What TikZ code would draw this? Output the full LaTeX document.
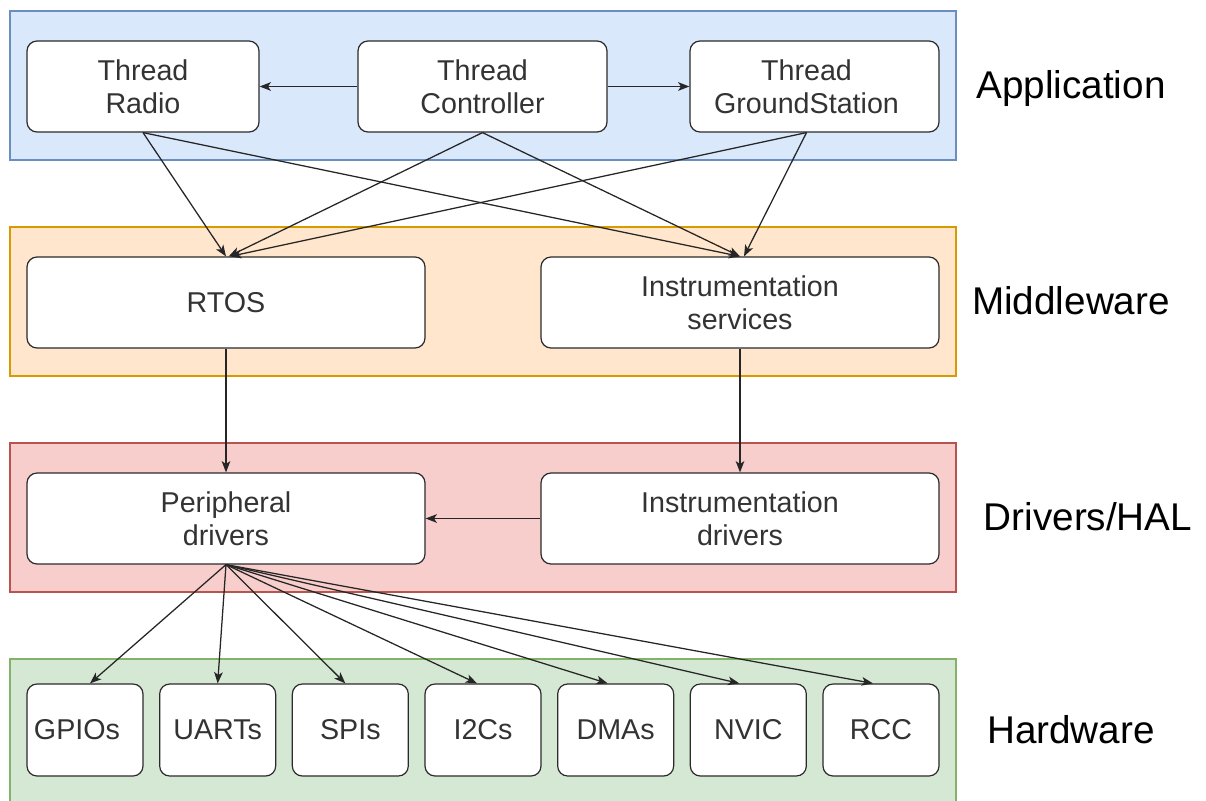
\documentclass[tikz,border=0pt]{standalone}
\usepackage{fontspec}
\setmainfont{Liberation Sans}
\usetikzlibrary{arrows.meta}
\definecolor{appfill}{HTML}{DAE8FC}\definecolor{appline}{HTML}{6C8EBF}
\definecolor{midfill}{HTML}{FFE6CC}\definecolor{midline}{HTML}{D79B00}
\definecolor{drvfill}{HTML}{F8CECC}\definecolor{drvline}{HTML}{B85450}
\definecolor{hwfill}{HTML}{D5E8D4}\definecolor{hwline}{HTML}{82B366}
\definecolor{boxline}{HTML}{2B2B2B}
\definecolor{txt}{HTML}{333333}
\definecolor{linecol}{HTML}{262626}
\begin{document}
\begin{tikzpicture}[x=0.75pt,y=-0.75pt,
  band/.style={line width=0.9pt},
  box/.style={draw=boxline, fill=white, rounded corners=7.5pt, line width=0.9pt,
    align=center, text=txt, inner sep=0pt,
    font=\fontsize{21.5}{24.75}\selectfont},
  widebox/.style={box, minimum width=298.5pt, minimum height=68.25pt},
  hwbox/.style={box, minimum width=87pt, minimum height=69pt},
  link/.style={-{Stealth[length=8.5pt,width=6.5pt,inset=2.2pt]}, draw=linecol, line width=0.95pt},
  layer/.style={font=\fontsize{29}{34}\selectfont, text=black, inner sep=0pt}]
\useasboundingbox (0,0) rectangle (1206,800);

% layer bands
\fill[appfill] (10,11) rectangle (956,160);
\draw[band, appline] (10,11) rectangle (956,160);
\fill[midfill] (10,227) rectangle (956,376);
\draw[band, midline] (10,227) rectangle (956,376);
\fill[drvfill] (10,443) rectangle (956,592);
\draw[band, drvline] (10,443) rectangle (956,592);
\fill[hwfill] (10,659) rectangle (956,812);
\draw[band, hwline] (10,659) rectangle (956,812);

% layer names
\node[layer] (lapp) at (1071,88) {Application};
\node[layer] (lmid) at (1071,301) {Middleware};
\node[layer] (ldrv) at (1088,517) {Drivers/HAL};
\node[layer] (lhw)  at (1071,730) {Hardware};

% application threads
\node[box, minimum width=174pt, minimum height=68.25pt] (radio) at (143,86.5) {Thread\\Radio};
\node[box, minimum width=186.75pt, minimum height=68.25pt] (ctrl) at (482.5,86.5) {Thread\\Controller};
\node[box, minimum width=186.75pt, minimum height=68.25pt] (gs) at (814.5,86.5) {\hspace*{-12pt}Thread\\\hspace*{-12pt}GroundStation};

% middleware
\node[widebox] (rtos) at (226,302.5) {RTOS};
\node[widebox] (instS) at (740,302.5) {Instrumentation\\services};

% drivers
\node[widebox] (periph) at (226,518.5) {Peripheral\\drivers};
\node[widebox] (instD) at (740,518.5) {Instrumentation\\drivers};

% hardware blocks
\node[hwbox] (gpio) at (85,730) {GPIOs\hspace*{12pt}};
\node[hwbox] (uart) at (217.67,730) {UARTs};
\node[hwbox] (spi)  at (350.33,730) {SPIs};
\node[hwbox] (i2c)  at (483,730) {I2Cs};
\node[hwbox] (dma)  at (615.67,730) {DMAs};
\node[hwbox] (nvic) at (748.33,730) {NVIC};
\node[hwbox] (rcc)  at (881,730) {\raisebox{-3pt}{RCC}};

% application links
\draw[link] (ctrl.west) -- (radio.east);
\draw[link] (ctrl.east) -- (gs.west);
\draw[link] (radio.south) -- (rtos.north);
\draw[link] (radio.south) -- (instS.north);
\draw[link] (ctrl.south) -- ([xshift=2pt]rtos.north);
\draw[link] (ctrl.south) -- (instS.north);
\draw[link] ([xshift=-6pt]gs.south) -- ([xshift=3pt]rtos.north);
\draw[link] ([xshift=-6pt]gs.south) -- ([xshift=3pt]instS.north);

% middleware to drivers
\draw[link] (rtos.south) -- (periph.north);
\draw[link] (instS.south) -- (instD.north);
\draw[link] (instD.west) -- (periph.east);

% drivers to hardware
\draw[link] (periph.south) -- ([xshift=3.75pt]gpio.north);
\draw[link] (periph.south) -- (uart.north);
\draw[link] (periph.south) -- ([xshift=-3.75pt]spi.north);
\draw[link] (periph.south) -- ([xshift=-4.5pt]i2c.north);
\draw[link] (periph.south) -- ([xshift=-6pt]dma.north);
\draw[link] (periph.south) -- ([xshift=-6.75pt]nvic.north);
\draw[link] (periph.south) -- ([xshift=-6pt]rcc.north);
\end{tikzpicture}
\end{document}
